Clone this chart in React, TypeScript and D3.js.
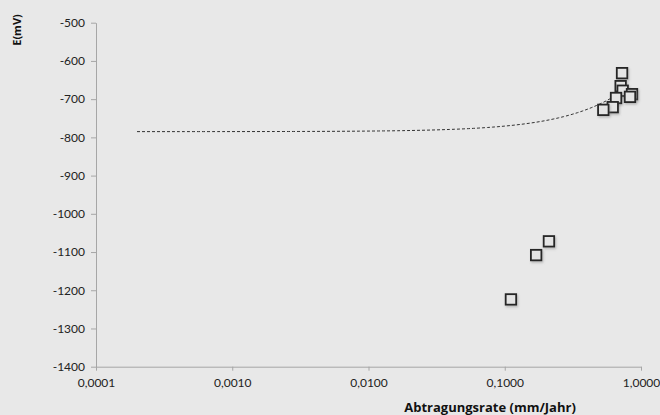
import React, { useEffect, useRef } from 'react';
import * as d3 from 'd3';

const rateValues = [0.726, 0.709, 0.734, 0.859, 0.83, 0.656, 0.62, 0.529, 0.211, 0.17, 0.111];
const potentialValues = [-632, -666, -678, -687, -694, -697, -721, -728, -1072, -1108, -1224];

const xTicks = [0.0001, 0.001, 0.01, 0.1, 1];
const yTicks = [-1400, -1300, -1200, -1100, -1000, -900, -800, -700, -600, -500];

// linear trendline (drawn on a log x axis, so it bends)
const trendIntercept = -785;
const trendSlope = 145;
const trendRange = [0.0002, 0.6];

const W = 660;
const H = 415;

const App: React.FC = () => {
  const chartRef = useRef<SVGSVGElement>(null);

  useEffect(() => {
    if (!chartRef.current) return;
    const svg = d3.select(chartRef.current);
    svg.selectAll('*').remove();

    const font = 'Lato, "Open Sans", sans-serif';
    const titleFont = '"Open Sans", Lato, sans-serif';
    const x = d3.scaleLog().domain([0.0001, 1]).range([96, 641]);
    const y = d3.scaleLinear().domain([-1400, -500]).range([366.7, 22.7]);

    svg.append('rect').attr('width', W).attr('height', H).attr('fill', '#e8e8e8');

    const defs = svg.append('defs');
    defs.append('filter')
      .attr('id', 'shadow')
      .attr('x', '-50%').attr('y', '-50%').attr('width', '200%').attr('height', '200%')
      .append('feDropShadow')
      .attr('dx', 1).attr('dy', 1.5)
      .attr('stdDeviation', 1)
      .attr('flood-color', '#777')
      .attr('flood-opacity', 0.45);

    // y axis
    const yAxis = svg.append('g').attr('transform', `translate(${x.range()[0]},0)`)
      .call(
        d3.axisLeft(y)
          .tickValues(yTicks)
          .tickSize(5)
          .tickSizeOuter(0)
          .tickPadding(6)
          .tickFormat(d => `${d}`)
      );
    // x axis
    const xAxis = svg.append('g').attr('transform', `translate(0,${y.range()[0]})`)
      .call(
        d3.axisBottom(x)
          .tickValues(xTicks)
          .tickSize(4)
          .tickSizeOuter(0)
          .tickPadding(8)
          .tickFormat(d => (+d).toFixed(4).replace('.', ','))
      );

    [yAxis, xAxis].forEach(a => {
      a.select('.domain').attr('stroke', '#a6a6a6').attr('stroke-width', 1);
      a.selectAll('.tick line').attr('stroke', '#a6a6a6');
      a.selectAll('.tick text')
        .attr('fill', '#222')
        .style('font-family', font)
        .style('font-size', '12px');
    });

    // trendline
    const logs = d3.range(0, 101).map(i => {
      const l0 = Math.log10(trendRange[0]);
      const l1 = Math.log10(trendRange[1]);
      return Math.pow(10, l0 + (l1 - l0) * i / 100);
    });
    const line = d3.line<number>()
      .x(d => x(d))
      .y(d => y(trendIntercept + trendSlope * d));
    svg.append('path')
      .attr('d', line(logs))
      .attr('fill', 'none')
      .attr('stroke', '#333')
      .attr('stroke-width', 1)
      .attr('stroke-dasharray', '3,2');

    // markers
    const s = 10.5;
    svg.append('g').selectAll('rect')
      .data(rateValues.map((r, i) => ({ r, e: potentialValues[i] })))
      .join('rect')
      .attr('x', d => x(d.r) - s / 2)
      .attr('y', d => y(d.e) - s / 2)
      .attr('width', s)
      .attr('height', s)
      .attr('fill', '#e4e4e4')
      .attr('stroke', '#262626')
      .attr('stroke-width', 1.8)
      .attr('filter', 'url(#shadow)');

    // titles
    svg.append('text')
      .attr('transform', 'translate(21,30) rotate(-90)')
      .attr('text-anchor', 'middle')
      .attr('fill', '#111')
      .style('font-family', titleFont)
      .style('font-weight', 'bold')
      .style('font-size', '11px')
      .text('E(mV)');

    svg.append('text')
      .attr('x', 490)
      .attr('y', 412)
      .attr('text-anchor', 'middle')
      .attr('fill', '#111')
      .style('font-family', titleFont)
      .style('font-weight', 'bold')
      .style('font-size', '13px')
      .text('Abtragungsrate (mm/Jahr)');
  }, []);

  return (
    <svg
      ref={chartRef}
      width={W}
      height={H}
      style={{ position: 'absolute', left: 0, top: 0, display: 'block' }}
    />
  );
};

export default App;
